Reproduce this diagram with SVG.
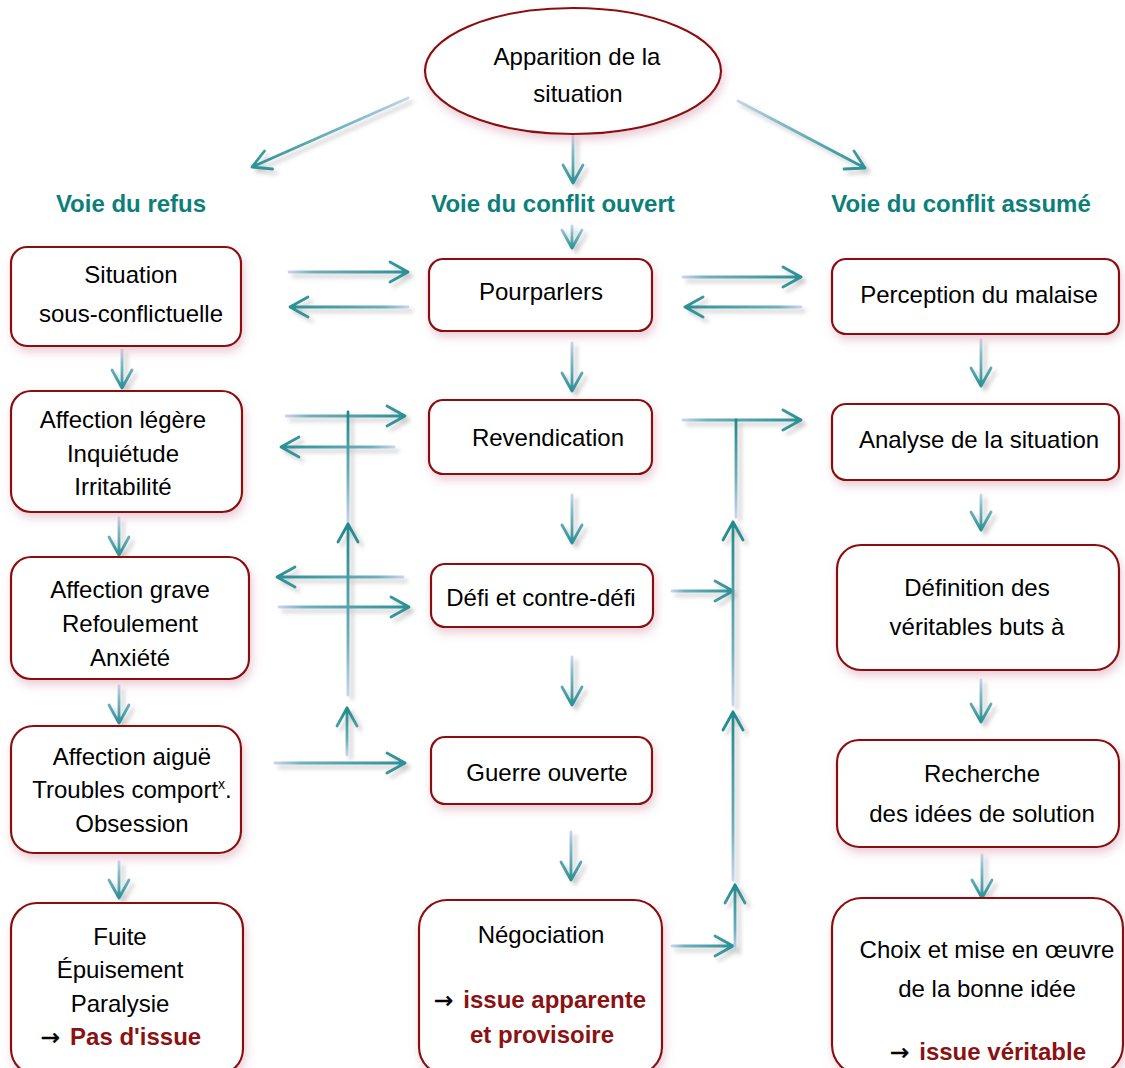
<svg xmlns="http://www.w3.org/2000/svg" width="1125" height="1068" viewBox="0 0 1125 1068">
<style>
.box{fill:#fff;stroke:#8b0f0f;stroke-width:2.2;filter:url(#glow)}
.t{font-family:"Liberation Sans",Arial,sans-serif;font-size:24px;fill:#000;text-anchor:middle}
.h{font-family:"Liberation Sans",Arial,sans-serif;font-size:24px;font-weight:bold;fill:#0d7f79;text-anchor:middle}
.r{font-weight:bold;fill:#8b1212}
.a{font-family:"DejaVu Sans",sans-serif;font-size:23px;stroke:#000;stroke-width:0.5}
.c{fill:none;stroke-width:2.8;stroke-linecap:round;stroke-linejoin:round}
</style>
<defs>
<filter id="glow" x="-20%" y="-30%" width="140%" height="160%">
<feGaussianBlur in="SourceAlpha" stdDeviation="5"/>
<feOffset dx="2" dy="5" result="b"/>
<feFlood flood-color="#d7a3b3" flood-opacity="0.55"/>
<feComposite in2="b" operator="in"/>
<feMerge><feMergeNode/><feMergeNode in="SourceGraphic"/></feMerge>
</filter>
<filter id="sh" filterUnits="userSpaceOnUse" x="0" y="0" width="1125" height="1068">
<feGaussianBlur in="SourceAlpha" stdDeviation="2"/>
<feOffset dx="4" dy="4" result="b"/>
<feFlood flood-color="#888" flood-opacity="0.45"/>
<feComposite in2="b" operator="in"/>
<feMerge><feMergeNode/><feMergeNode in="SourceGraphic"/></feMerge>
</filter>
<linearGradient id="gR" x1="0" y1="0" x2="1" y2="0"><stop offset="0" stop-color="#c6d3ef"/><stop offset="0.2" stop-color="#6fb0bb"/><stop offset="1" stop-color="#2a9096"/></linearGradient>
<linearGradient id="gL" x1="1" y1="0" x2="0" y2="0"><stop offset="0" stop-color="#c6d3ef"/><stop offset="0.2" stop-color="#6fb0bb"/><stop offset="1" stop-color="#2a9096"/></linearGradient>
<linearGradient id="gD" x1="0" y1="0" x2="0" y2="1"><stop offset="0" stop-color="#c6d3ef"/><stop offset="0.3" stop-color="#86bccb"/><stop offset="1" stop-color="#2a9096"/></linearGradient>
<linearGradient id="gU" x1="0" y1="1" x2="0" y2="0"><stop offset="0" stop-color="#c6d3ef"/><stop offset="0.3" stop-color="#6fb0bb"/><stop offset="1" stop-color="#1f8a8c"/></linearGradient>
<linearGradient id="gDL" x1="1" y1="0" x2="0" y2="1"><stop offset="0" stop-color="#c6d3ef"/><stop offset="0.3" stop-color="#86bccb"/><stop offset="1" stop-color="#2a9096"/></linearGradient>
<linearGradient id="gDR" x1="0" y1="0" x2="1" y2="1"><stop offset="0" stop-color="#c6d3ef"/><stop offset="0.3" stop-color="#86bccb"/><stop offset="1" stop-color="#2a9096"/></linearGradient>
<linearGradient id="gV1" gradientUnits="userSpaceOnUse" x1="0" y1="523" x2="0" y2="412"><stop offset="0" stop-color="#c6d3ef"/><stop offset="0.4" stop-color="#6fb0bb"/><stop offset="1" stop-color="#1f8a8c"/></linearGradient>
<linearGradient id="gV2" gradientUnits="userSpaceOnUse" x1="0" y1="517" x2="0" y2="420"><stop offset="0" stop-color="#c6d3ef"/><stop offset="0.4" stop-color="#6fb0bb"/><stop offset="1" stop-color="#1f8a8c"/></linearGradient>
</defs>
<rect width="1125" height="1068" fill="#fff"/>

<g id="connectors" filter="url(#sh)">
<path class="c" stroke="url(#gDL)" d="M408,98 L252,167 M272.5,169 L252,167 L264.5,151"/>
<path class="c" stroke="url(#gDR)" d="M738,101 L865,168 M844,169 L865,168 L854,151"/>
<path class="c" stroke="url(#gD)" d="M573,136 V183 M563,165 L573,183 L583,165"/>
<path class="c" stroke="url(#gD)" d="M572,226 V248 M562,230 L572,248 L582,230"/>
<path class="c" stroke="url(#gD)" d="M122,350 V388 M112,370 L122,388 L132,370"/>
<path class="c" stroke="url(#gD)" d="M119,518 V555 M109,537 L119,555 L129,537"/>
<path class="c" stroke="url(#gD)" d="M119,686 V723 M109,705 L119,723 L129,705"/>
<path class="c" stroke="url(#gD)" d="M119,862 V898 M109,880 L119,898 L129,880"/>
<path class="c" stroke="url(#gD)" d="M572,343 V391 M562,373 L572,391 L582,373"/>
<path class="c" stroke="url(#gD)" d="M572,495 V543 M562,525 L572,543 L582,525"/>
<path class="c" stroke="url(#gD)" d="M572,657 V705 M562,687 L572,705 L582,687"/>
<path class="c" stroke="url(#gD)" d="M571,832 V880 M561,862 L571,880 L581,862"/>
<path class="c" stroke="url(#gD)" d="M981,340 V386 M971,368 L981,386 L991,368"/>
<path class="c" stroke="url(#gD)" d="M981,495 V530 M971,512 L981,530 L991,512"/>
<path class="c" stroke="url(#gD)" d="M981,680 V722 M971,704 L981,722 L991,704"/>
<path class="c" stroke="url(#gD)" d="M982,855 V898 M972,880 L982,898 L992,880"/>
<path class="c" stroke="url(#gR)" d="M289,272 H408 M390,262 L408,272 L390,282"/>
<path class="c" stroke="url(#gL)" d="M408,307 H290 M308,297 L290,307 L308,317"/>
<path class="c" stroke="url(#gR)" d="M683,277 H801 M783,267 L801,277 L783,287"/>
<path class="c" stroke="url(#gL)" d="M801,307 H685 M703,297 L685,307 L703,317"/>
<path class="c" stroke="url(#gR)" d="M286,416 H405 M387,406 L405,416 L387,426"/>
<path class="c" stroke="url(#gL)" d="M394,447 H281 M299,437 L281,447 L299,457"/>
<path class="c" stroke="url(#gR)" d="M683,420 H801 M783,410 L801,420 L783,430"/>
<path class="c" stroke="url(#gL)" d="M403,577 H277 M295,567 L277,577 L295,587"/>
<path class="c" stroke="url(#gR)" d="M279,607 H409 M391,597 L409,607 L391,617"/>
<path class="c" stroke="url(#gR)" d="M672,591 H733 M715,581 L733,591 L715,601"/>
<path class="c" stroke="url(#gR)" d="M275,763 H405 M387,753 L405,763 L387,773"/>
<path class="c" stroke="url(#gR)" d="M672,946 H733 M715,936 L733,946 L715,956"/>
<path class="c" stroke="url(#gV1)" d="M348,523 V412"/>
<path class="c" stroke="url(#gU)" d="M348,695 V524 M338,542 L348,524 L358,542"/>
<path class="c" stroke="url(#gU)" d="M347,755 V708 M337,726 L347,708 L357,726"/>
<path class="c" stroke="url(#gV2)" d="M736,517 V420"/>
<path class="c" stroke="url(#gU)" d="M733,705 V522 M723,540 L733,522 L743,540"/>
<path class="c" stroke="url(#gU)" d="M733,880 V712 M723,730 L733,712 L743,730"/>
<path class="c" stroke="url(#gU)" d="M735,950 V885 M725,903 L735,885 L745,903"/>
</g>

<g id="n-apparition">
<ellipse cx="573" cy="71" rx="148" ry="63" fill="#fff" stroke="#8b0f0f" stroke-width="2.2" filter="url(#glow)"/>
<text class="t" x="577" y="65">Apparition de la</text>
<text class="t" x="578" y="102">situation</text>
</g>

<g id="headings">
<text class="h" x="131" y="212">Voie du refus</text>
<text class="h" x="553" y="212">Voie du conflit ouvert</text>
<text class="h" x="961" y="212">Voie du conflit assumé</text>
</g>

<g id="n-situation">
<rect class="box" x="11" y="247" width="230" height="99" rx="16"/>
<text class="t" x="131" y="283">Situation</text>
<text class="t" x="131" y="322">sous-conflictuelle</text>
</g>
<g id="n-legere">
<rect class="box" x="11" y="391" width="231" height="121" rx="20"/>
<text class="t" x="123" y="428">Affection légère</text>
<text class="t" x="123" y="462">Inquiétude</text>
<text class="t" x="123" y="495">Irritabilité</text>
</g>
<g id="n-grave">
<rect class="box" x="11" y="557" width="238" height="122" rx="20"/>
<text class="t" x="130" y="598">Affection grave</text>
<text class="t" x="130" y="632">Refoulement</text>
<text class="t" x="130" y="666">Anxiété</text>
</g>
<g id="n-aigue">
<rect class="box" x="11" y="726" width="230" height="127" rx="22"/>
<text class="t" x="132" y="765">Affection aiguë</text>
<text class="t" x="132" y="798">Troubles comport<tspan font-size="14" dy="-9">x</tspan><tspan dy="9">.</tspan></text>
<text class="t" x="132" y="832">Obsession</text>
</g>
<g id="n-fuite">
<rect class="box" x="11" y="903" width="232" height="172" rx="26"/>
<text class="t" x="120" y="945">Fuite</text>
<text class="t" x="120" y="978">Épuisement</text>
<text class="t" x="120" y="1012">Paralysie</text>
<text class="t" x="121" y="1045"><tspan class="a">→</tspan><tspan class="r" dx="10">Pas d'issue</tspan></text>
</g>

<g id="n-pourparlers">
<rect class="box" x="429" y="259" width="223" height="72" rx="14"/>
<text class="t" x="541" y="300">Pourparlers</text>
</g>
<g id="n-revendication">
<rect class="box" x="429" y="400" width="223" height="74" rx="14"/>
<text class="t" x="548" y="446">Revendication</text>
</g>
<g id="n-defi">
<rect class="box" x="431" y="564" width="222" height="63" rx="14"/>
<text class="t" x="541" y="606">Défi et contre-défi</text>
</g>
<g id="n-guerre">
<rect class="box" x="431" y="737" width="221" height="67" rx="14"/>
<text class="t" x="547" y="781">Guerre ouverte</text>
</g>
<g id="n-negociation">
<rect class="box" x="419" y="900" width="243" height="175" rx="28"/>
<text class="t" x="541" y="943">Négociation</text>
<text class="t" x="540" y="1008"><tspan class="a">→</tspan><tspan class="r" dx="10">issue apparente</tspan></text>
<text class="t r" x="542" y="1043">et provisoire</text>
</g>

<g id="n-perception">
<rect class="box" x="832" y="259" width="287" height="75" rx="14"/>
<text class="t" x="979" y="303">Perception du malaise</text>
</g>
<g id="n-analyse">
<rect class="box" x="832" y="404" width="287" height="76" rx="14"/>
<text class="t" x="979" y="448">Analyse de la situation</text>
</g>
<g id="n-definition">
<rect class="box" x="837" y="545" width="282" height="125" rx="24"/>
<text class="t" x="977" y="596">Définition des</text>
<text class="t" x="977" y="635">véritables buts à</text>
</g>
<g id="n-recherche">
<rect class="box" x="837" y="740" width="282" height="107" rx="22"/>
<text class="t" x="982" y="782">Recherche</text>
<text class="t" x="982" y="822">des idées de solution</text>
</g>
<g id="n-choix">
<rect class="box" x="832" y="898" width="291" height="177" rx="30"/>
<text class="t" x="987" y="958">Choix et mise en œuvre</text>
<text class="t" x="987" y="997">de la bonne idée</text>
<text class="t" x="988" y="1060"><tspan class="a">→</tspan><tspan class="r" dx="10">issue véritable</tspan></text>
</g>
</svg>
